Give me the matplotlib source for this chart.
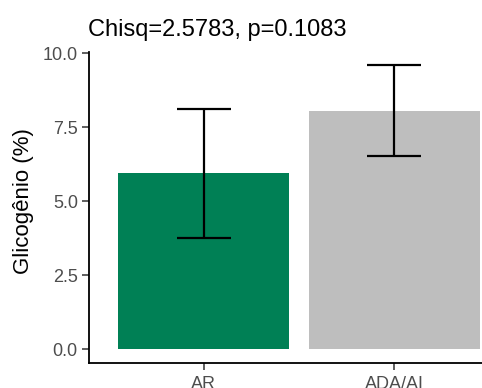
import matplotlib
matplotlib.use("Agg")
import matplotlib.pyplot as plt

groups = ["AR", "ADA/AI"]
means = [5.94, 8.06]
errors = [2.17, 1.53]
colors = ["#008055", "#BEBEBE"]
title = "Chisq=2.5783, p=0.1083"
ylabel = "Glicogênio (%)"
yticks = [0.0, 2.5, 5.0, 7.5, 10.0]

plt.rcParams["font.family"] = ["Liberation Sans", "DejaVu Sans"]

fig = plt.figure(figsize=(4.82, 3.88), dpi=100)
ax = fig.add_axes([0.1846, 0.0644, 0.8154, 0.8022])

x = [1, 2]
ax.bar(x, means, width=0.9, color=colors, zorder=1)
ax.errorbar(x, means, yerr=errors, fmt="none", ecolor="black",
            elinewidth=1.6, capsize=19.5, capthick=1.6, zorder=2)

ax.set_xlim(0.398, 2.46)
ax.set_ylim(-0.47, 10.05)
ax.set_xticks(x)
ax.set_xticklabels(groups)
ax.set_yticks(yticks)
ax.set_yticklabels([f"{v:.1f}" for v in yticks])

for side in ("top", "right"):
    ax.spines[side].set_visible(False)
for side in ("left", "bottom"):
    ax.spines[side].set_linewidth(1.3)
    ax.spines[side].set_color("black")

ax.tick_params(axis="both", length=5, width=1.1, color="#333333",
               labelsize=13, labelcolor="#4D4D4D", pad=3)
ax.tick_params(axis="x", pad=4)
ax.set_ylabel(ylabel, fontsize=16, color="black")
ax.yaxis.set_label_coords(-0.140, 0.52)
ax.set_title(title, fontsize=17, loc="left", x=-0.002, pad=11, color="black")

fig.savefig("out.png", dpi=100)
